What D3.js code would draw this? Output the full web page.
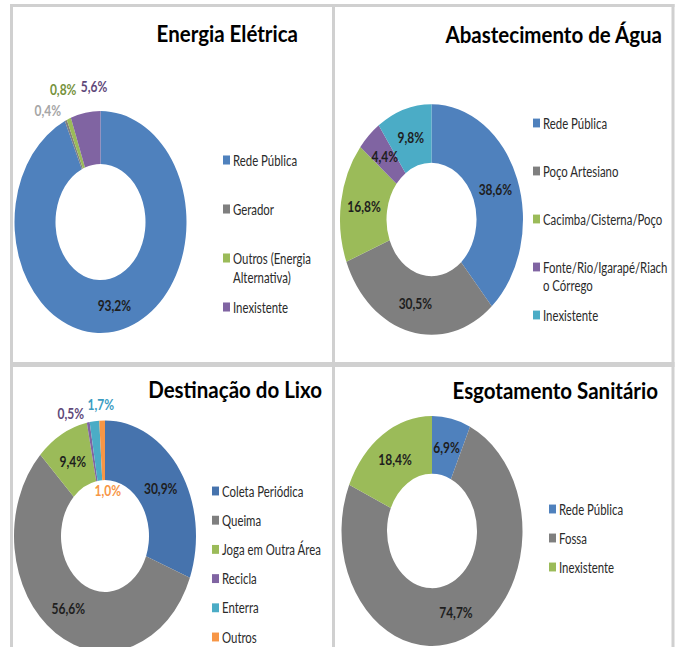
<!DOCTYPE html>
<html>
<head>
<meta charset="utf-8">
<script src="https://cdn.jsdelivr.net/npm/d3@7"></script>
<style>
  html, body { margin: 0; padding: 0; background: #fff; }
  svg { display: block; font-family: Lato, "Open Sans", sans-serif; }
</style>
</head>
<body>
<div id="chart"></div>
<script>
// Data
const energiaCategorias = ["Rede Pública", "Gerador", "Outros (Energia\nAlternativa)", "Inexistente"];
const energiaValores = [93.2, 0.4, 0.8, 5.6];

const aguaCategorias = ["Rede Pública", "Poço Artesiano", "Cacimba/Cisterna/Poço", "Fonte/Rio/Igarapé/Riach\no Córrego", "Inexistente"];
const aguaValores = [38.6, 30.5, 16.8, 4.4, 9.8];

const lixoCategorias = ["Coleta Periódica", "Queima", "Joga em Outra Área", "Recicla", "Enterra", "Outros"];
const lixoValores = [30.9, 56.6, 9.4, 0.5, 1.7, 1.0];

const esgotoCategorias = ["Rede Pública", "Fossa", "Inexistente"];
const esgotoValores = [6.9, 74.7, 18.4];

const W = 677, H = 647;
const blue = "#4f81bd", gray = "#7f7f7f", green = "#9bbb59",
      purple = "#8064a2", cyan = "#4bacc6", orange = "#f79646";

// layout of each panel (the source image is stretched vertically, hence ky)
const panels = [
  {
    title: "Energia Elétrica", cats: energiaCategorias, vals: energiaValores,
    colors: [blue, gray, green, purple],
    cx: 100.5, cy: 222, r: 86, r0: 45, ky: 1.29,
    titleX: 298, titleY: 42,
    legX: 223, legY: 160, legStep: 49,
    labels: {
      1: { mode: "out", dy: 4, fill: "#a6a6a6" },
      2: { mode: "out", dx: 12, dy: -16, fill: "#76923c" },
      3: { mode: "out", dx: 24, dy: -12, fill: "#5f497a" }
    }
  },
  {
    title: "Abastecimento de Água", cats: aguaCategorias, vals: aguaValores,
    colors: [blue, gray, green, purple, cyan],
    cx: 431.5, cy: 219.5, r: 91.5, r0: 45, ky: 1.26,
    titleX: 662, titleY: 43,
    legX: 533, legY: 123, legStep: 48,
    labels: {}
  },
  {
    title: "Destinação do Lixo", cats: lixoCategorias, vals: lixoValores,
    colors: ["#4673ad", gray, green, purple, cyan, orange],
    cx: 105, cy: 536, r: 91, r0: 44, ky: 1.27,
    titleX: 322, titleY: 398,
    legX: 212, legY: 491, legStep: 29.2,
    labels: {
      3: { mode: "out", dx: -2, dy: 5, fill: "#5f497a" },
      4: { mode: "out", dx: 21, dy: -2, fill: "#3b9cc2" },
      5: { mode: "hole", dx: 4, dy: 0, fill: orange }
    }
  },
  {
    title: "Esgotamento Sanitário", cats: esgotoCategorias, vals: esgotoValores,
    colors: [blue, gray, green],
    cx: 432, cy: 531, r: 90.5, r0: 45, ky: 1.27,
    titleX: 658, titleY: 399,
    legX: 549, legY: 509, legStep: 29,
    labels: {}
  }
];

const fmt = v => d3.format(".1f")(v).replace(".", ",") + "%";

const svg = d3.select("#chart").append("svg")
  .attr("width", W)
  .attr("height", H);

// panel frames
const frame = svg.append("g")
  .attr("stroke", "#d0d0d0")
  .attr("fill", "none");
frame.append("line").attr("x1", 10).attr("x2", 674.5).attr("y1", 5.5).attr("y2", 5.5).attr("stroke-width", 3);
frame.append("line").attr("x1", 11.5).attr("x2", 11.5).attr("y1", 4).attr("y2", H).attr("stroke-width", 3);
frame.append("line").attr("x1", 673).attr("x2", 673).attr("y1", 4).attr("y2", H).attr("stroke-width", 3);
frame.append("line").attr("x1", 333.5).attr("x2", 333.5).attr("y1", 4).attr("y2", H).attr("stroke-width", 3);
frame.append("line").attr("x1", 10).attr("x2", 674.5).attr("y1", 364.5).attr("y2", 364.5).attr("stroke-width", 5);

const pie = d3.pie().sort(null).value(d => d);

panels.forEach(p => {
  const g = svg.append("g");
  const arcs = pie(p.vals);
  const arc = d3.arc().innerRadius(p.r0).outerRadius(p.r);

  // donut, squashed into an ellipse
  const ring = g.append("g")
    .attr("transform", `translate(${p.cx},${p.cy}) scale(1,${p.ky})`);
  ring.selectAll("path")
    .data(arcs)
    .join("path")
    .attr("d", arc)
    .attr("fill", (d, i) => p.colors[i]);

  // data labels
  arcs.forEach((d, i) => {
    const opt = p.labels[i] || { mode: "in" };
    const mid = (d.startAngle + d.endAngle) / 2;
    let x, y, anchor = "middle";
    if (opt.mode === "in") {
      [x, y] = arc.centroid(d);
    } else {
      const rr = opt.mode === "out" ? p.r + 12 : p.r0 - 8;
      x = rr * Math.sin(mid);
      y = -rr * Math.cos(mid);
      if (opt.mode === "out") anchor = "end";
    }
    const px = p.cx + x + (opt.dx || 0);
    const py = p.cy + y * p.ky + (opt.dy || 0);
    g.append("text")
      .attr("transform", `translate(${px},${py}) scale(1,${p.ky})`)
      .attr("text-anchor", anchor)
      .attr("dominant-baseline", "central")
      .attr("font-size", 12)
      .attr("font-weight", 700)
      .attr("fill", opt.fill || "#1e1e1e")
      .text(fmt(p.vals[i]));
  });

  // title
  g.append("text")
    .attr("transform", `translate(${p.titleX},${p.titleY}) scale(1,1.15)`)
    .attr("text-anchor", "end")
    .attr("font-size", 20.5)
    .attr("font-weight", 700)
    .attr("fill", "#000")
    .text(p.title);

  // legend
  const leg = g.append("g");
  p.cats.forEach((c, i) => {
    const y = p.legY + i * p.legStep;
    leg.append("rect")
      .attr("x", p.legX)
      .attr("y", y - 3.5 * p.ky)
      .attr("width", 7)
      .attr("height", 7 * p.ky)
      .attr("fill", p.colors[i]);
    const t = leg.append("text")
      .attr("transform", `translate(${p.legX + 10},${y}) scale(1,${p.ky})`)
      .attr("dominant-baseline", "central")
      .attr("font-size", 11.4)
      .attr("fill", "#2a2a2a");
    c.split("\n").forEach((line, k) => {
      t.append("tspan")
        .attr("x", 0)
        .attr("y", k * 15)
        .text(line);
    });
  });
});
</script>
</body>
</html>
